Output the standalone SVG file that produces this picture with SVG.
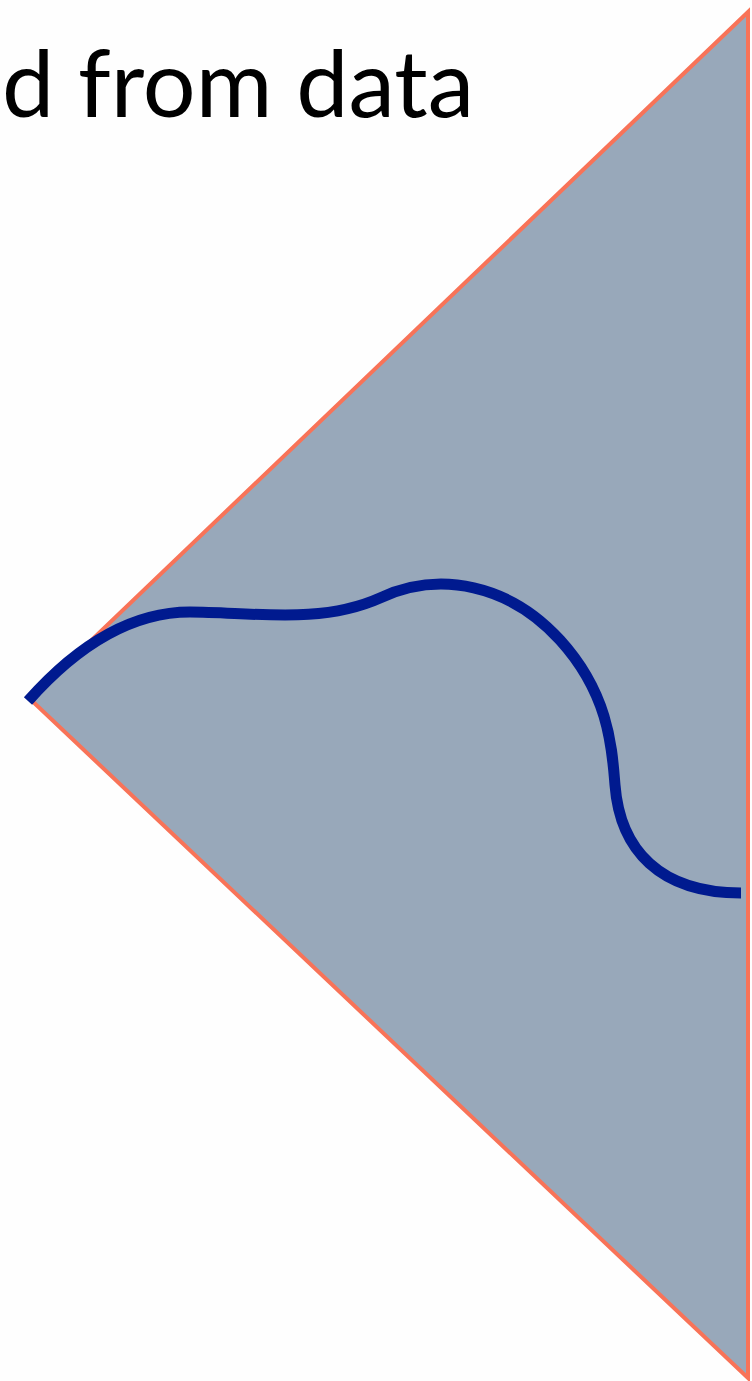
<svg xmlns="http://www.w3.org/2000/svg" width="752" height="1381" viewBox="0 0 752 1381">
<style>
.title{font-family:"Lato","Open Sans","Liberation Sans",sans-serif;font-size:94px;fill:#000}
.tri{fill:#98A8BA;stroke:#F87358;stroke-width:4;stroke-linejoin:miter}
.curve{fill:none;stroke:#001A8F;stroke-width:11;stroke-linecap:butt}
</style>
<rect width="752" height="1381" fill="#FEFEFE"/>
<text class="title" x="2" y="117" textLength="472" lengthAdjust="spacingAndGlyphs">d from data</text>
<polygon class="tri" points="748,12 30,699 748,1378"/>
<path class="curve" d="M28,701 C75,648 130,612 190,612 C250,612 320,625 380,598 C440,570 510,585 560,640 C610,695 612,750 615,785 C620,850 660,893 741,893"/>
</svg>
